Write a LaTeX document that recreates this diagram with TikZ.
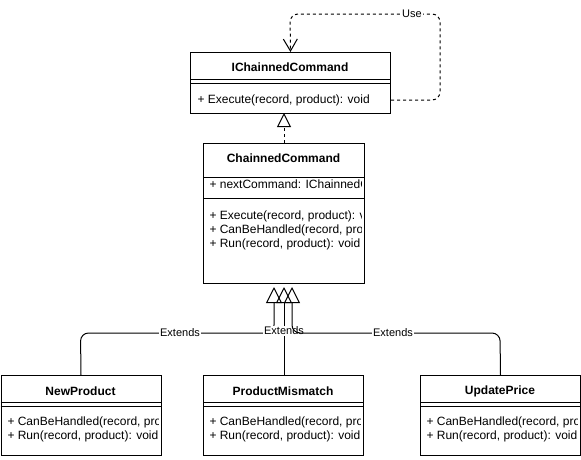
\documentclass[tikz,border=0pt]{standalone}
\usepackage{fontspec}
\setmainfont{Liberation Sans}
\usetikzlibrary{arrows.meta}
\begin{document}
\begin{tikzpicture}[x=1pt,y=-1pt,line width=1pt,
  umlbox/.style={draw,rectangle,inner sep=0pt,anchor=north west},
  ttl/.style={font=\fontsize{12}{14}\selectfont\bfseries,inner sep=0pt},
  mem/.style={font=\fontsize{12}{14}\selectfont,inner sep=0pt,anchor=west},
  lbl/.style={font=\fontsize{11}{13}\selectfont,fill=white,inner sep=1pt},
  ext/.style={-{Triangle[open,length=16pt,width=16pt]}},
  real/.style={dash pattern=on 3pt off 3pt,-{Triangle[open,length=14pt,width=14pt]}},
  use/.style={dash pattern=on 3pt off 3pt,rounded corners=8pt,-{Straight Barb[length=12pt,width=14pt]}}]
\useasboundingbox (0,0) rectangle (581,459);

% IChainnedCommand
\node[umlbox,minimum width=200pt,minimum height=61pt] (icc) at (190,52) {};
\node[ttl] (icc-t) at (290,67) {IChainnedCommand};
\draw (190,79) -- (390,79);
\draw (190,83) -- (390,83);
\node[mem] (icc-m) at (197,100) {+ Execute(record, product): void};

% ChainnedCommand
\node[umlbox,minimum width=161pt,minimum height=140pt] (cc) at (203,143) {};
\node[ttl] (cc-t) at (283.5,158) {ChainnedCommand};
\draw (203,177) -- (364,177);
\draw (203,198) -- (364,198);
\begin{scope}
  \clip (203,143) rectangle (361,283);
  \node[mem] (cc-a) at (209,184) {+ nextCommand: IChainnedCommand};
  \node[mem] (cc-m1) at (209,216) {+ Execute(record, product): void};
  \node[mem] (cc-m2) at (209,230) {+ CanBeHandled(record, product): bool};
  \node[mem] (cc-m3) at (209,244) {+ Run(record, product): void};
\end{scope}

% NewProduct
\node[umlbox,minimum width=160pt,minimum height=80pt] (np) at (0.5,375) {};
\node[ttl] (np-t) at (80.5,391) {NewProduct};
\draw (0.5,402) -- (160.5,402);
\draw (0.5,406) -- (160.5,406);
\begin{scope}
  \clip (0,375) rectangle (158,455);
  \node[mem] (np-m1) at (7,422) {+ CanBeHandled(record, product): bool};
  \node[mem] (np-m2) at (7,436) {+ Run(record, product): void};
\end{scope}

% ProductMismatch
\node[umlbox,minimum width=160pt,minimum height=80pt] (pm) at (203,375) {};
\node[ttl] (pm-t) at (283,391) {ProductMismatch};
\draw (203,402) -- (363,402);
\draw (203,406) -- (363,406);
\begin{scope}
  \clip (203,375) rectangle (360,455);
  \node[mem] (pm-m1) at (209,422) {+ CanBeHandled(record, product): bool};
  \node[mem] (pm-m2) at (209,436) {+ Run(record, product): void};
\end{scope}

% UpdatePrice
\node[umlbox,minimum width=160pt,minimum height=80pt] (up) at (420,375) {};
\node[ttl] (up-t) at (500,391) {UpdatePrice};
\draw (420,402) -- (580,402);
\draw (420,406) -- (580,406);
\begin{scope}
  \clip (420,375) rectangle (577,455);
  \node[mem] (up-m1) at (426,422) {+ CanBeHandled(record, product): bool};
  \node[mem] (up-m2) at (426,436) {+ Run(record, product): void};
\end{scope}

% Realization
\draw[real] (284,143) -- (284,113);

% Use self-dependency
\coordinate (uA) at (440,100);
\coordinate (uB) at (440,14);
\coordinate (uC) at (290,14);
\draw[use] (icc-m.east -| icc.east) -- (uA) -- (uB) -- (uC) -- (icc.north);
\node[lbl] (use-l) at (412,14) {Use};

% Extends
\coordinate (t1) at (274,287);
\coordinate (t2) at (284,287);
\coordinate (t3) at (292,287);
\draw[ext,rounded corners=8pt] (np.north) -- (80.5,333) -- (274,333) -- (t1);
\node[lbl] (e1) at (180,333) {Extends};
\draw[ext] (284,375) -- (t2);
\node[lbl] (e2) at (284,331) {Extends};
\draw[ext,rounded corners=8pt] (up.north) -- (500,333) -- (292,333) -- (t3);
\node[lbl] (e3) at (393,333) {Extends};
\end{tikzpicture}
\end{document}
